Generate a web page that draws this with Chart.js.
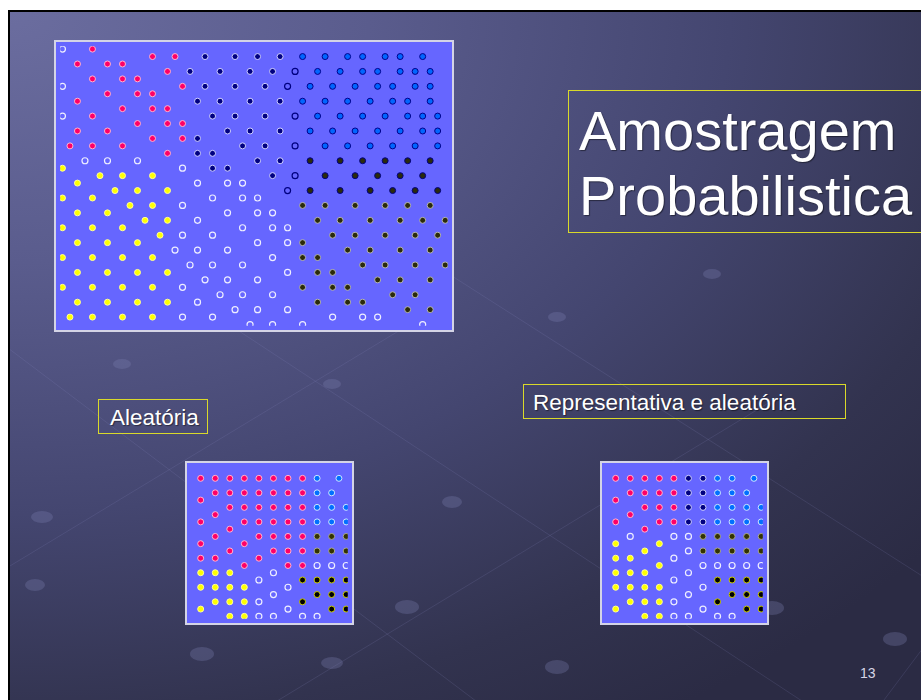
<!DOCTYPE html>
<html lang="pt">
<head>
<meta charset="UTF-8">
<title>Amostragem Probabilistica</title>
<script src="https://cdn.jsdelivr.net/npm/chart.js@4.4.0/dist/chart.umd.min.js"></script>
<style>
    html, body { margin: 0; padding: 0; background: #fff; overflow: hidden; }
    .slide {
        position: absolute; left: 8px; top: 10px; width: 1000px; height: 760px;
        border: 2px solid #000;
        background: radial-gradient(ellipse 120% 110% at 0% 0%, #6b6d9f 0%, #5a5c8d 30%, #444670 60%, #32334f 85%, #2b2b44 100%);
        overflow: hidden;
    }
    .deco { position: absolute; left: 0; top: 0; }
    .plot {
        position: absolute; border: 2px solid #d4d4e6; background: #6666ff;
    }
    .plot canvas { display: block; }
    .box { position: absolute; border: 1.5px solid #d9d92a; }
    .txt {
        position: absolute; color: #fff; white-space: nowrap;
        font-family: "Liberation Sans", Arial, sans-serif;
        text-shadow: 1px 1px 1px rgba(0,0,0,0.45);
    }
</style>
</head>
<body>
<div class="slide">
    <svg class="deco" width="1000" height="760">
        <g stroke="rgba(140,145,200,0.16)" stroke-width="1" fill="none">
            <line x1="-10" y1="330" x2="560" y2="760"/>
            <line x1="200" y1="300" x2="900" y2="760"/>
            <line x1="420" y1="250" x2="1000" y2="620"/>
            <line x1="-10" y1="560" x2="420" y2="300"/>
            <line x1="150" y1="760" x2="760" y2="390"/>
            <line x1="820" y1="760" x2="1000" y2="520"/>
        </g>
        <g fill="rgba(125,128,180,0.3)">
            <ellipse cx="32" cy="505" rx="11" ry="6"/>
            <ellipse cx="25" cy="573" rx="10" ry="6"/>
            <ellipse cx="222" cy="555" rx="11" ry="6"/>
            <ellipse cx="397" cy="595" rx="12" ry="7"/>
            <ellipse cx="192" cy="642" rx="12" ry="7"/>
            <ellipse cx="322" cy="651" rx="11" ry="6"/>
            <ellipse cx="547" cy="655" rx="12" ry="7"/>
            <ellipse cx="762" cy="596" rx="12" ry="7"/>
            <ellipse cx="885" cy="627" rx="12" ry="7"/>
            <ellipse cx="442" cy="490" rx="10" ry="6"/>
            <ellipse cx="112" cy="352" rx="9" ry="5"/>
            <ellipse cx="322" cy="372" rx="9" ry="5"/>
            <ellipse cx="547" cy="305" rx="9" ry="5"/>
            <ellipse cx="702" cy="262" rx="9" ry="5"/>
        </g>
    </svg>
</div>

<div class="plot" style="left:54px; top:40px;"><canvas id="mainChart" width="396" height="288"></canvas></div>
<div class="plot" style="left:185px; top:461px;"><canvas id="smallA" width="165" height="160"></canvas></div>
<div class="plot" style="left:600px; top:461px;"><canvas id="smallB" width="165" height="160"></canvas></div>

<div class="box" style="left:568px; top:90px; width:400px; height:141px;"></div>
<div class="txt" style="left:579px; top:98px; font-size:56px; line-height:65px;">Amostragem<br>Probabilistica</div>

<div class="box" style="left:98px; top:399px; width:108px; height:33px;"></div>
<div class="txt" style="left:110px; top:406.6px; font-size:22.5px; line-height:22.5px;">Aleatória</div>

<div class="box" style="left:523px; top:384px; width:321px; height:33px;"></div>
<div class="txt" style="left:533px; top:391.6px; font-size:22.5px; line-height:22.5px;">Representativa e aleatória</div>

<div class="txt" style="left:860px; top:666px; font-size:14px; line-height:14px; color:#d6d6e6; text-shadow:none;">13</div>

<script>
// each entry: [row, [columns]] on the dot lattice of the picture
const mainPink = [[0,[4]],[1,[12,15]],[2,[2,6,8]],[3,[14]],[4,[4,8,10]],[5,[16]],[6,[6,10,12]],[7,[2]],
    [8,[8,12,14]],[9,[4]],[10,[10,14,16]],[11,[2,6]],[12,[12,16]],[13,[1,4,8]],[14,[14]]];
const mainNavy = [[1,[19,23,26,29]],[3,[17,21,25,28]],[5,[19,23,27]],[7,[18,21,25,29]],[9,[20,23,27]],
    [11,[22,25,29]],[12,[18]],[13,[24,27]],[14,[18,20]],[15,[26,29]],[16,[20,22]],[17,[28]]];
const mainHollowNavy = [[3,[31]],[5,[30]],[9,[31]],[13,[31]],[17,[31]],[19,[30]]];
const mainBlue = [[1,[32,35,38,40,43,45,48]],[3,[34,37,40,42,45,47,49]],[5,[33,36,39,42,44,47,49]],
    [7,[32,35,38,41,44,46,49]],[9,[34,37,40,43,46,48,50]],[11,[33,36,39,42,45,48,50]],[13,[35,38,41,44,47,50]]];
const mainDarkTop = [[15,[33,37,40,43,46,49]],[17,[35,39,42,45,48]],[19,[33,37,41,44,47,50]]];
const mainDark = [[21,[32,35,39,43,46,49]],[23,[34,37,41,45,48,51]],[25,[36,39,43,47,50]],[26,[32]],
    [27,[38,41,45,49]],[28,[32,34]],[29,[40,43,47,51]],[30,[34,36]],[31,[42,45,49]],[32,[32,36,38]],
    [33,[44,47]],[34,[34,38,40]],[35,[46,49]]];
const mainOpen = [[0,[0]],[5,[0]],[9,[0]],[15,[3,6,10]],[16,[16]],[18,[18,22,24]],[20,[20,24,26]],[21,[16]],
    [22,[22,26,28]],[23,[18]],[24,[24,28,30]],[25,[16,20]],[26,[26,30]],[27,[15,18,22]],[28,[28]],
    [29,[17,20,24]],[30,[30]],[31,[19,22,26]],[32,[16]],[33,[21,24,28]],[34,[18]],[35,[23,26,30]],
    [36,[16,20,36,40,42]],[37,[25,28,32,48]]];
const mainYellow = [[16,[0]],[17,[5,8,12]],[18,[2]],[19,[7,10,14]],[20,[0,4]],[21,[9,12]],[22,[2,6]],
    [23,[11,14]],[24,[0,4,8]],[25,[13]],[26,[2,6,10]],[28,[0,4,8,12]],[30,[2,6,10,14]],
    [32,[0,4,8,12]],[34,[2,6,10,14]],[36,[1,4,8,12]]];

const smallAPink = [[0,[0,1,2,3,4,5,6,7]],[2,[1,2,3,4,5,6,7]],[3,[0]],[4,[2,3,4,5,6,7]],[5,[1]],
    [6,[0,3,4,5,6,7]],[7,[2]],[8,[1,4,5,6,7]],[9,[0,3]],[10,[2,5,6,7]],[11,[0,1,4]],[12,[3,6,7]]];
const smallABlue = [[0,[8,9.5]],[2,[8,9]],[4,[8,9,10]],[6,[8,9,10]]];
const smallADark = [[8,[8,9,10]],[10,[8,9,10]]];
const smallAOpen = [[12,[8,9,10]],[13,[5]],[14,[4]],[15,[6]],[16,[5]],[17,[4]],[18,[6]],[19,[4,5,7,8]]];
const smallAYellow = [[13,[0,1,2]],[15,[0,1,2,3]],[17,[1,2,3]],[18,[0]],[19,[2,3]]];
const smallABlack = [[14,[7,8,9,10]],[16,[8,9,10]],[17,[7]],[18,[9,10]]];

const smallBPink = [[0,[0,1,2,3,4]],[2,[1,2,3,4]],[3,[0]],[4,[2,3,4]],[5,[1]],[6,[0,3,4]],[7,[2]]];
const smallBNavy = [[0,[5,6]],[2,[5,6]],[4,[5,6]],[6,[5,6]]];
const smallBBlue = [[0,[7,8,9.5]],[2,[7,8,9]],[4,[7,8,9,10]],[6,[7,8,9,10]]];
const smallBDark = [[8,[6,7,8,9,10]],[10,[6,7,8,9,10]]];
const smallBOpen = [[8,[1,4,5]],[10,[5]],[11,[4]],[12,[6,7,8,9,10]],[13,[5]],[14,[4]],[15,[6]],[16,[5]],
    [17,[4]],[18,[6]],[19,[4,5,7,8]]];
const smallBYellow = [[9,[0,3]],[10,[2]],[11,[0,1]],[12,[3]],[13,[0,1,2]],[15,[0,1,2,3]],[17,[1,2,3]],
    [18,[0]],[19,[2,3]]];
const smallBBlack = [[14,[7,8,9,10]],[16,[8,9,10]],[17,[7]],[18,[9,10]]];

const toPoints = rows => rows.flatMap(([y, xs]) => xs.map(x => ({ x: x, y: y })));

function dots(rows, fill, border, bw) {
    return {
        data: toPoints(rows),
        pointRadius: 3,
        pointHoverRadius: 3,
        pointBackgroundColor: fill,
        pointBorderColor: border,
        pointBorderWidth: bw || 1,
        showLine: false
    };
}

function drawPlot(id, datasets, xr, yr) {
    new Chart(document.getElementById(id), {
        type: 'scatter',
        data: { datasets: datasets },
        options: {
            responsive: false,
            animation: false,
            devicePixelRatio: 1,
            layout: { padding: 0 },
            plugins: { legend: { display: false }, tooltip: { enabled: false } },
            scales: {
                x: { type: 'linear', min: xr[0], max: xr[1], display: false },
                y: { type: 'linear', min: yr[0], max: yr[1], reverse: true, display: false }
            }
        }
    });
}

const clear = 'rgba(0,0,0,0)';

drawPlot('mainChart', [
    dots(mainPink, '#ff0066', '#ffb3d1'),
    dots(mainNavy, '#000080', '#d0d0ff'),
    dots(mainHollowNavy, clear, '#000080', 1.2),
    dots(mainBlue, '#0066ff', '#00008b'),
    dots(mainDarkTop, '#2b2b0a', '#000080'),
    dots(mainDark, '#2b2b0a', '#b4b4b4'),
    dots(mainOpen, clear, '#eeeeff', 1.2),
    dots(mainYellow, '#ffff00', '#ffff99')
], [-0.3, 51.35], [-0.39, 37.17]);

const smallSets = (pink, blue, dark, open, yellow, black, navy) => {
    const sets = [
        dots(pink, '#ff0066', '#ffb3d1'),
        dots(blue, '#0070ff', '#cfe4ff'),
        dots(dark, '#333300', '#a8a890'),
        dots(open, clear, '#eeeeff', 1.2),
        dots(yellow, '#ffff00', '#ffff99'),
        dots(black, '#000000', '#cccc00')
    ];
    if (navy) sets.push(dots(navy, '#000080', '#d0d0ff'));
    return sets;
};

drawPlot('smallA', smallSets(smallAPink, smallABlue, smallADark, smallAOpen, smallAYellow, smallABlack),
    [-0.652, 10.11], [-1.53, 19.34]);
drawPlot('smallB', smallSets(smallBPink, smallBBlue, smallBDark, smallBOpen, smallBYellow, smallBBlack, smallBNavy),
    [-0.652, 10.11], [-1.53, 19.34]);
</script>
</body>
</html>
